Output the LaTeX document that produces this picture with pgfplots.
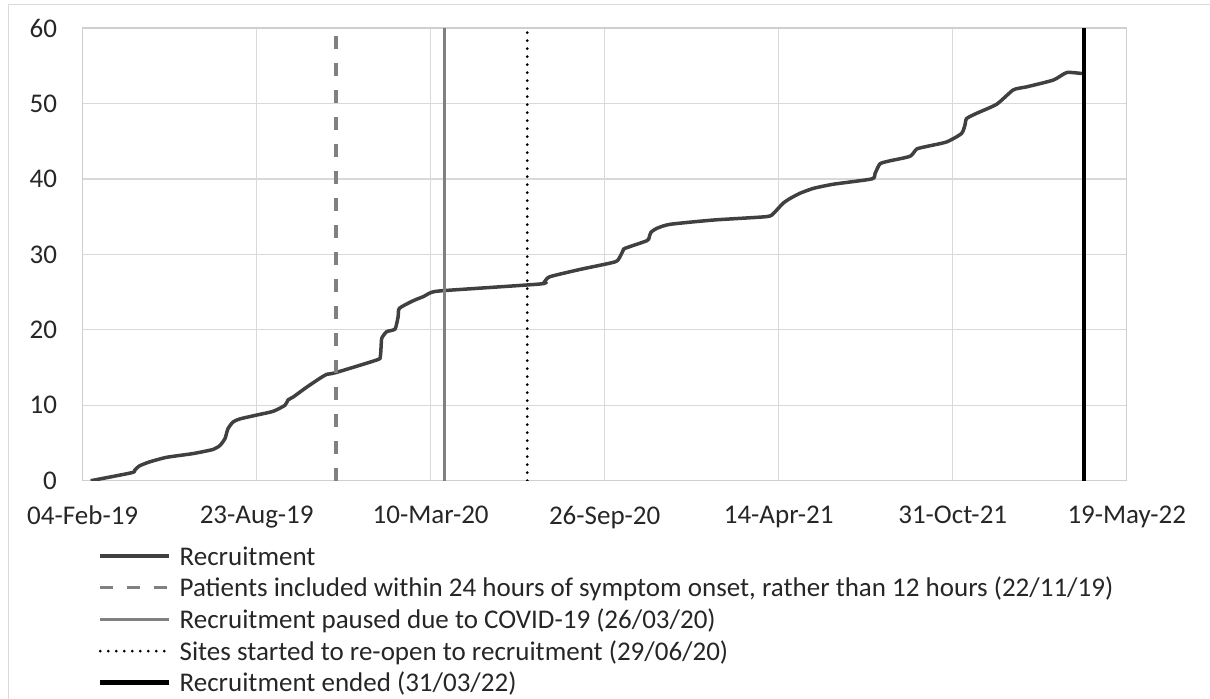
\documentclass[border=0pt]{standalone}
\usepackage{pgfplots}
\pgfplotsset{compat=1.18}
\usepackage{fontspec}
\setmainfont{Carlito}
\definecolor{rec}{HTML}{404040}
\definecolor{gridc}{HTML}{D9D9D9}
\definecolor{axc}{HTML}{CFCFCF}
\definecolor{grayl}{HTML}{808080}
\definecolor{txt}{HTML}{262626}
\begin{document}
\begin{tikzpicture}
\begin{axis}[
  at={(41.35pt,108.65pt)}, anchor=south west,
  scale only axis, width=522pt, height=226.35pt,
  xmin=0, xmax=1200, ymin=0, ymax=60,
  xtick={0,200,...,1200},
  xticklabels={04-Feb-19,23-Aug-19,10-Mar-20,26-Sep-20,14-Apr-21,31-Oct-21,19-May-22},
  ytick={0,10,...,60},
  grid=major,
  major grid style={draw=gridc, line width=0.6pt},
  axis line style={draw=axc, line width=0.6pt},
  major tick length=0pt,
  /pgf/number format/assume math mode=true,
  tick label style={font=\fontsize{13.5}{16}\selectfont, text=txt},
  xticklabel style={yshift=-9.15pt},
  yticklabel style={xshift=-9.35pt},
  legend style={at={(0.01466,-0.1313)}, anchor=north west, draw=none, fill=none,
    inner sep=0pt, outer sep=0pt, row sep=0pt,
    font=\fontsize{13.5}{16}\selectfont, text=txt,
    nodes={inner sep=0pt, text height=12.5pt, text depth=3.35pt},
    /tikz/every odd column/.style={column sep=4pt}},
  legend cell align=left,
  legend image code/.code={\draw[#1] (0pt,0pt) -- (34.5pt,0pt);},
]
\addplot[rec, line width=1.75pt, smooth, tension=0.35] coordinates {
(9.2,0) (56.3,1.06) (60,1.42) (65,1.95) (77,2.5) (96.5,3.1) (127,3.6) (150,4.15)
(158,4.7) (163.6,5.6) (167,6.9) (173,7.8) (181,8.2) (200,8.7) (219,9.2) (232.5,10.0)
(236,10.7) (242,11.1) (257.5,12.4) (273,13.6) (280.5,14.1) (290,14.3) (338,16.0)
(342,16.4) (343,17.8) (343.8,18.9) (349.4,19.75) (359,20.1) (362.5,21.7) (364,22.85)
(380,23.86) (391.5,24.4) (401,24.97) (415.6,25.2) (525.6,26.07) (531,26.4) (537,27.04)
(571.6,28.0) (611.8,29.0) (617.6,29.7) (621.4,30.58) (623.3,30.8) (648.3,31.8)
(651,32.2) (653,32.9) (660,33.45) (675,33.98) (725,34.55) (786,35.0) (794,35.44)
(805,36.77) (813,37.4) (824.5,38.1) (840,38.75) (863,39.3) (907,40.0) (910.7,40.7)
(916.4,42.0) (928,42.4) (951,43.0) (958.6,43.96) (970,44.3) (993,44.9) (1010,46.0)
(1014,47.1) (1016,48.0) (1027.6,48.7) (1050.6,49.9) (1069.7,51.8) (1085,52.2)
(1115.6,53.1) (1131,54.1) (1146,54.0) (1151,54.0)
};
\addlegendentry{Recruitment}
\addplot[grayl, line width=1.65pt, dash pattern=on 6.5pt off 7pt] coordinates {(291,0) (291,60)};
\addlegendentry{Patients included within 24 hours of symptom onset, rather than 12 hours (22/11/19)}
\addplot[grayl, line width=1.65pt] coordinates {(416,0) (416,60)};
\addlegendentry{Recruitment paused due to COVID-19 (26/03/20)}
\addplot[black, line width=1.5pt, line cap=round, dash pattern=on 0pt off 4pt] coordinates {(511,0) (511,60)};
\addlegendentry{Sites started to re-open to recruitment (29/06/20)}
\addplot[black, line width=2.3pt] coordinates {(1151,0) (1151,60)};
\addlegendentry{Recruitment ended (31/03/22)}
\end{axis}
\draw[gridc, line width=0.75pt] (4.15pt,-20pt) -- (4.15pt,346.65pt) -- (640pt,346.65pt);
\pgfresetboundingbox
\path[use as bounding box] (0,0) rectangle (605pt,349pt);
\end{tikzpicture}
\end{document}
